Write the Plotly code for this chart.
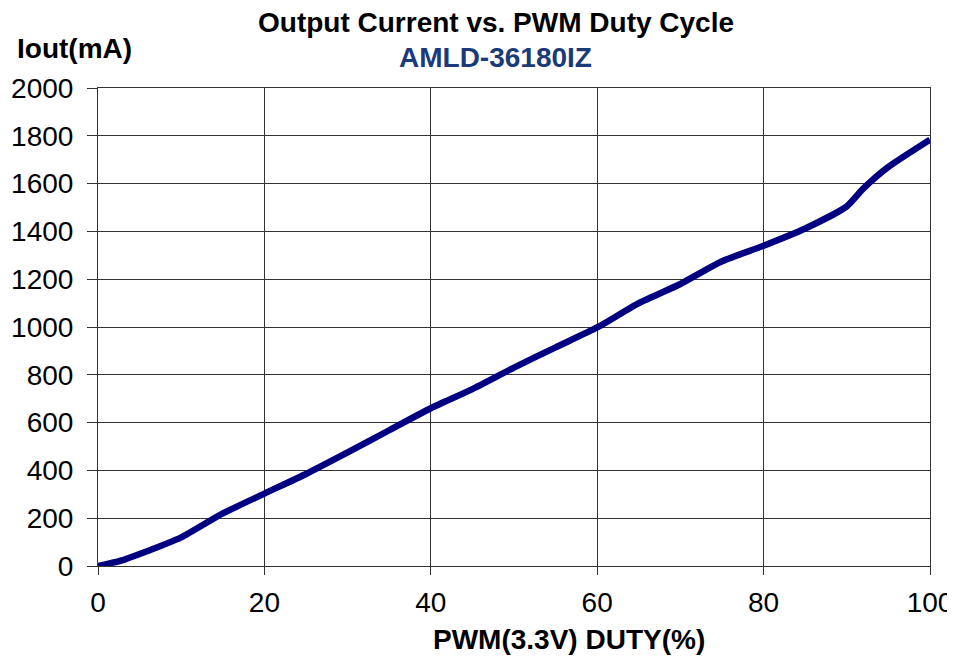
import plotly.graph_objects as go

duty = [0, 3, 5, 10, 15, 20, 25, 30, 35, 40, 45, 50, 55, 60, 65, 70, 75, 80, 85, 90, 92, 95, 100]
iout = [0, 25, 50, 120, 220, 303, 385, 475, 568, 660, 740, 830, 915, 998, 1100, 1180, 1275, 1340, 1412, 1505, 1580, 1670, 1784]

x_ticks = [0, 20, 40, 60, 80, 100]
y_ticks = list(range(0, 2001, 200))

FONT = "Liberation Sans, Arial, sans-serif"

fig = go.Figure()
fig.add_trace(go.Scatter(
    x=duty, y=iout, mode="lines",
    line=dict(color="#000080", width=6.5, shape="spline", smoothing=0.6),
    showlegend=False, hoverinfo="skip"))

# page body has an 8px margin, so the figure is laid out 8px smaller
fig.update_layout(
    width=947, height=648,
    margin=dict(l=90, r=25, t=80, b=90),
    paper_bgcolor="white", plot_bgcolor="white",
    font=dict(family=FONT, size=28, color="black"),
    showlegend=False,
)
fig.update_xaxes(
    range=[0, 100], tickvals=x_ticks, ticks="outside", ticklen=8, tickcolor="#333",
    showgrid=True, gridcolor="#333", gridwidth=1, automargin=False,
    showline=True, linecolor="#333", linewidth=1, mirror=True, zeroline=False,
    tickfont=dict(size=28, family=FONT), ticklabelstandoff=3,
)
fig.update_yaxes(
    range=[0, 2000], tickvals=y_ticks, ticks="outside", ticklen=10, tickcolor="#333",
    showgrid=True, gridcolor="#333", gridwidth=1, automargin=False,
    showline=True, linecolor="#333", linewidth=1, mirror=True, zeroline=False,
    tickfont=dict(size=28, family=FONT), ticklabelstandoff=8,
)
fig.add_annotation(text="<b>Output Current vs. PWM Duty Cycle</b>", xref="paper", yref="paper",
                   x=0.478, y=1, yshift=66, showarrow=False, xanchor="center", yanchor="middle",
                   font=dict(size=28, family=FONT, color="black"))
fig.add_annotation(text="<b>AMLD-36180IZ</b>", xref="paper", yref="paper",
                   x=0.478, y=1, yshift=31, showarrow=False, xanchor="center", yanchor="middle",
                   font=dict(size=28, family=FONT, color="#1B3A7A"))
fig.add_annotation(text="<b>Iout(mA)</b>", xref="paper", yref="paper",
                   x=0, y=1, xshift=-83, yshift=40, showarrow=False, xanchor="left", yanchor="middle",
                   font=dict(size=28, family=FONT, color="black"))
fig.add_annotation(text="<b>PWM(3.3V) DUTY(%)</b>", xref="paper", yref="paper",
                   x=0.566, y=0, yshift=-73, showarrow=False, xanchor="center", yanchor="middle",
                   font=dict(size=28, family=FONT, color="black"))

fig.write_html("out.html")
